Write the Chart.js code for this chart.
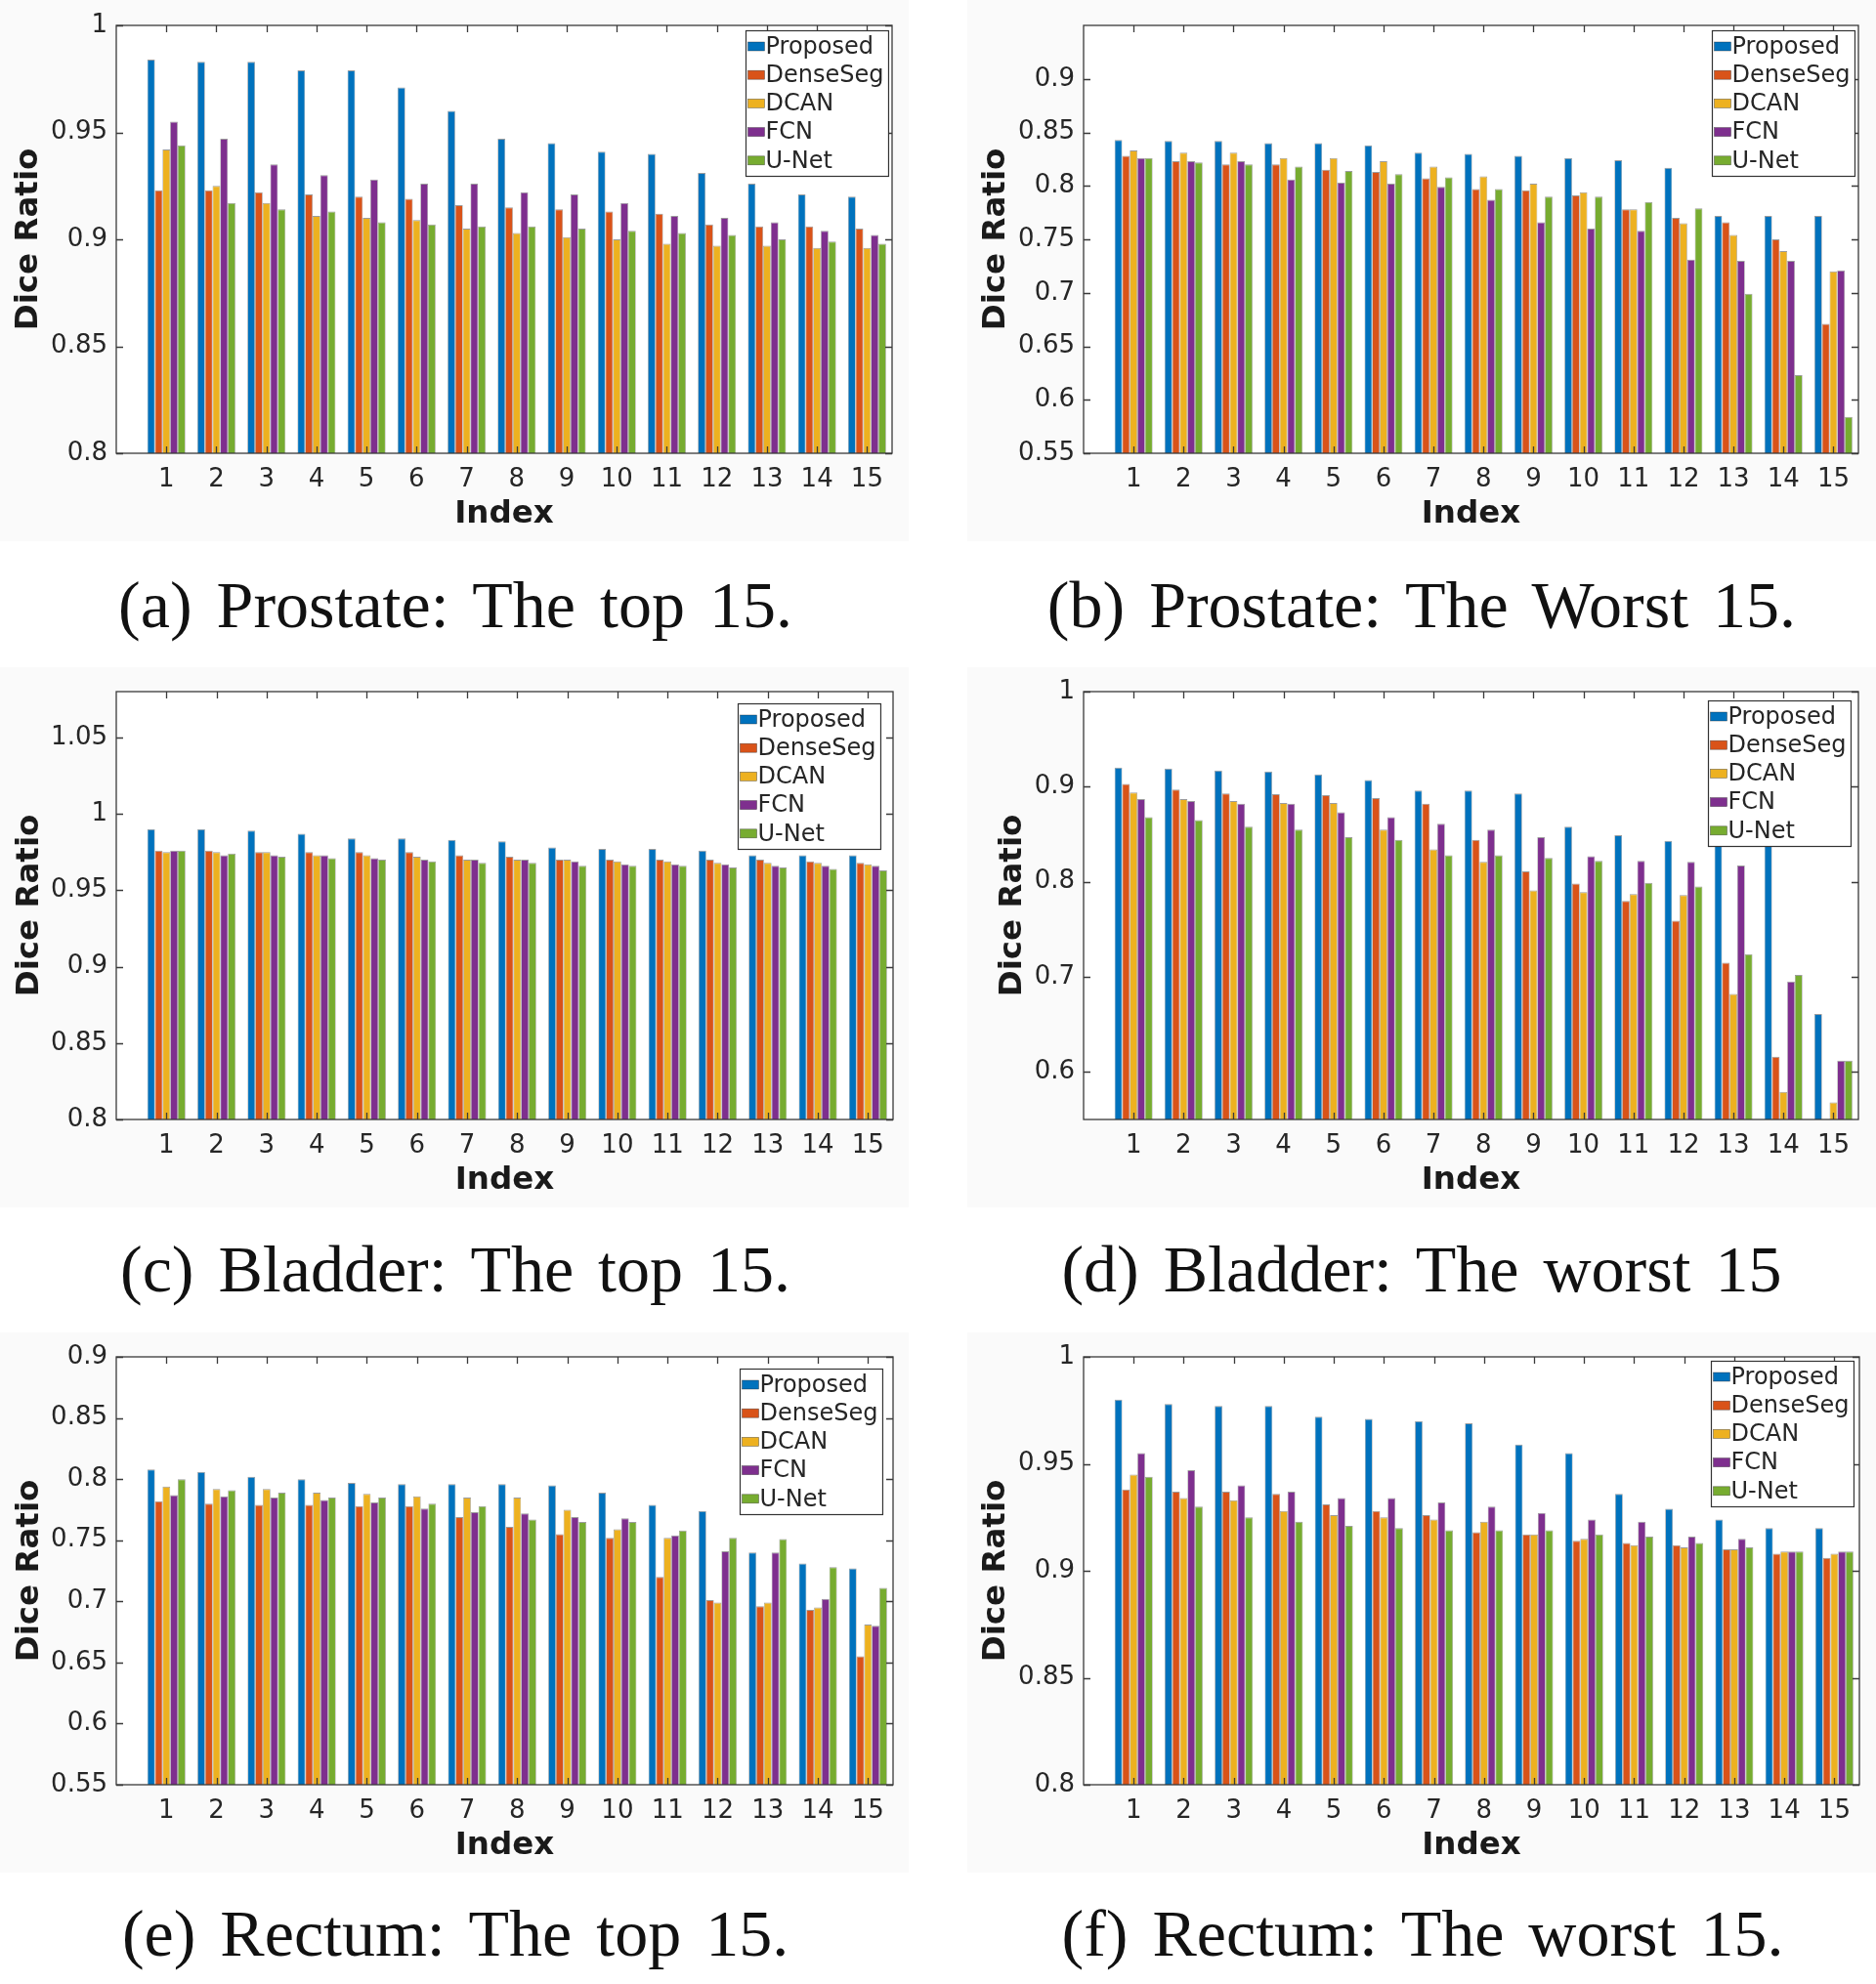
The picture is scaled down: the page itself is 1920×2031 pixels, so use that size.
<!DOCTYPE html>
<html><head><meta charset="utf-8">
<script src="https://cdn.jsdelivr.net/npm/chart.js@4.4.1/dist/chart.umd.min.js"></script>
<style>
html,body{margin:0;padding:0;background:#fff;}
body{width:1920px;height:2031px;position:relative;overflow:hidden;}
canvas{position:absolute;display:block;}
.cap{position:absolute;font-family:"Liberation Serif","Times New Roman",serif;font-size:68px;color:#111;white-space:nowrap;transform:translate(-50%,-50%);word-spacing:8px;line-height:1;}
</style></head><body>
<canvas id="ca" width="930" height="554" style="left:0;top:0"></canvas>
<canvas id="cb" width="930" height="554" style="left:990px;top:0"></canvas>
<canvas id="cc" width="930" height="553" style="left:0;top:683px"></canvas>
<canvas id="cd" width="930" height="553" style="left:990px;top:683px"></canvas>
<canvas id="ce" width="930" height="553" style="left:0;top:1364px"></canvas>
<canvas id="cf" width="930" height="553" style="left:990px;top:1364px"></canvas>
<div class="cap" style="left:466px;top:619px">(a) Prostate: The top 15.</div>
<div class="cap" style="left:1455px;top:619px">(b) Prostate: The Worst 15.</div>
<div class="cap" style="left:466px;top:1299px">(c) Bladder: The top 15.</div>
<div class="cap" style="left:1455px;top:1299px">(d) Bladder: The worst 15</div>
<div class="cap" style="left:466px;top:1979px">(e) Rectum: The top 15.</div>
<div class="cap" style="left:1456px;top:1979px">(f) Rectum: The worst 15.</div>
<script>
// ---------- data ----------
const indices = [1,2,3,4,5,6,7,8,9,10,11,12,13,14,15];
const seriesNames = ['Proposed','DenseSeg','DCAN','FCN','U-Net'];

// (a) Prostate: top 15
const aProposed = [0.984,0.983,0.983,0.979,0.979,0.971,0.960,0.947,0.945,0.941,0.940,0.931,0.926,0.921,0.920];
const aDenseSeg = [0.923,0.923,0.922,0.921,0.920,0.919,0.916,0.915,0.914,0.913,0.912,0.907,0.906,0.906,0.905];
const aDCAN     = [0.942,0.925,0.917,0.911,0.910,0.909,0.905,0.903,0.901,0.900,0.898,0.897,0.897,0.896,0.896];
const aFCN      = [0.955,0.947,0.935,0.930,0.928,0.926,0.926,0.922,0.921,0.917,0.911,0.910,0.908,0.904,0.902];
const aUNet     = [0.944,0.917,0.914,0.913,0.908,0.907,0.906,0.906,0.905,0.904,0.903,0.902,0.900,0.899,0.898];
const aYTicks   = [0.8,0.85,0.9,0.95,1];

// (b) Prostate: worst 15
const bProposed = [0.843,0.842,0.842,0.840,0.840,0.838,0.831,0.830,0.828,0.826,0.824,0.817,0.772,0.772,0.772];
const bDenseSeg = [0.828,0.823,0.820,0.820,0.815,0.813,0.807,0.797,0.796,0.791,0.778,0.770,0.766,0.750,0.671];
const bDCAN     = [0.833,0.831,0.831,0.826,0.826,0.823,0.818,0.809,0.802,0.794,0.778,0.765,0.754,0.739,0.720];
const bFCN      = [0.826,0.823,0.823,0.806,0.803,0.802,0.799,0.787,0.766,0.760,0.758,0.731,0.730,0.730,0.721];
const bUNet     = [0.826,0.822,0.820,0.818,0.814,0.811,0.808,0.797,0.790,0.790,0.785,0.779,0.699,0.623,0.584];
const bYTicks   = [0.55,0.6,0.65,0.7,0.75,0.8,0.85,0.9];

// (c) Bladder: top 15
const cProposed = [0.990,0.990,0.989,0.987,0.984,0.984,0.983,0.982,0.978,0.977,0.977,0.976,0.973,0.973,0.973];
const cDenseSeg = [0.976,0.976,0.975,0.975,0.975,0.975,0.973,0.972,0.970,0.970,0.970,0.970,0.970,0.969,0.968];
const cDCAN     = [0.975,0.975,0.975,0.973,0.973,0.972,0.970,0.970,0.970,0.969,0.969,0.968,0.968,0.968,0.967];
const cFCN      = [0.976,0.973,0.973,0.973,0.971,0.970,0.970,0.970,0.969,0.967,0.967,0.967,0.966,0.966,0.966];
const cUNet     = [0.976,0.974,0.972,0.971,0.970,0.969,0.968,0.968,0.966,0.966,0.966,0.965,0.965,0.964,0.963];
const cYTicks   = [0.8,0.85,0.9,0.95,1,1.05];

// (d) Bladder: worst 15
const dProposed = [0.920,0.919,0.917,0.916,0.913,0.907,0.896,0.896,0.893,0.858,0.849,0.843,0.840,0.839,0.661];
const dDenseSeg = [0.903,0.897,0.893,0.892,0.891,0.888,0.882,0.844,0.811,0.798,0.780,0.759,0.715,0.616,0.520];
const dDCAN     = [0.894,0.887,0.885,0.883,0.883,0.855,0.834,0.821,0.791,0.789,0.787,0.786,0.682,0.579,0.568];
const dFCN      = [0.887,0.885,0.882,0.882,0.873,0.868,0.861,0.855,0.847,0.827,0.822,0.821,0.817,0.695,0.612];
const dUNet     = [0.868,0.865,0.858,0.855,0.847,0.844,0.828,0.828,0.825,0.822,0.799,0.795,0.724,0.702,0.612];
const dYTicks   = [0.6,0.7,0.8,0.9,1];

// (e) Rectum: top 15
const eProposed = [0.808,0.806,0.802,0.800,0.797,0.796,0.796,0.796,0.795,0.789,0.779,0.774,0.740,0.731,0.727];
const eDenseSeg = [0.782,0.780,0.779,0.779,0.778,0.778,0.769,0.761,0.755,0.752,0.720,0.701,0.696,0.693,0.655];
const eDCAN     = [0.794,0.792,0.792,0.789,0.788,0.786,0.785,0.785,0.775,0.759,0.752,0.699,0.699,0.695,0.681];
const eFCN      = [0.787,0.786,0.785,0.783,0.781,0.776,0.773,0.772,0.769,0.768,0.754,0.741,0.740,0.702,0.680];
const eUNet     = [0.800,0.791,0.789,0.785,0.785,0.780,0.778,0.767,0.765,0.765,0.758,0.752,0.751,0.728,0.711];
const eYTicks   = [0.55,0.6,0.65,0.7,0.75,0.8,0.85,0.9];

// (f) Rectum: worst 15
const fProposed = [0.980,0.978,0.977,0.977,0.972,0.971,0.970,0.969,0.959,0.955,0.936,0.929,0.924,0.920,0.920];
const fDenseSeg = [0.938,0.937,0.937,0.936,0.931,0.928,0.926,0.918,0.917,0.914,0.913,0.912,0.910,0.908,0.906];
const fDCAN     = [0.945,0.934,0.933,0.928,0.926,0.925,0.924,0.923,0.917,0.915,0.912,0.911,0.910,0.909,0.908];
const fFCN      = [0.955,0.947,0.940,0.937,0.934,0.934,0.932,0.930,0.927,0.924,0.923,0.916,0.915,0.909,0.909];
const fUNet     = [0.944,0.930,0.925,0.923,0.921,0.920,0.919,0.919,0.919,0.917,0.916,0.913,0.911,0.909,0.909];
const fYTicks   = [0.8,0.85,0.9,0.95,1];

// ---------- styles ----------
const COLORS = ['#0072BD','#D95319','#EDB120','#7E2F8E','#77AC30'];
const TXT = '#262626';
Chart.defaults.font.family = '"DejaVu Sans", sans-serif';
Chart.defaults.color = TXT;

const framePlugin = {
  id: 'frame',
  beforeDraw(c) {
    const {ctx, chartArea: a} = c;
    ctx.save();
    ctx.fillStyle = '#fafafa';
    ctx.fillRect(0, 0, c.width, c.height);
    ctx.fillStyle = '#ffffff';
    ctx.fillRect(a.left, a.top, a.right - a.left, a.bottom - a.top);
    ctx.restore();
  },
  afterDatasetsDraw(c, args, opts) {
    const {ctx, chartArea: a, scales: {x, y}} = c;
    ctx.save();
    ctx.strokeStyle = '#3a3a3a';
    ctx.lineWidth = 1.3;
    const L = 7;
    ctx.beginPath();
    x.ticks.forEach(t => {
      const px = Math.round(x.getPixelForValue(t.value)) + 0.5;
      ctx.moveTo(px, a.bottom); ctx.lineTo(px, a.bottom - L);
      ctx.moveTo(px, a.top); ctx.lineTo(px, a.top + L);
    });
    y.ticks.forEach(t => {
      const py = Math.round(y.getPixelForValue(t.value)) + 0.5;
      ctx.moveTo(a.left, py); ctx.lineTo(a.left + L, py);
      ctx.moveTo(a.right, py); ctx.lineTo(a.right - L, py);
    });
    ctx.stroke();
    ctx.strokeRect(a.left, a.top, a.right - a.left, a.bottom - a.top);
    // legend box drawn inside the axes, like the original figure
    ctx.font = '24px "DejaVu Sans"';
    const tw = Math.max(...c.data.datasets.map(d => ctx.measureText(d.label).width));
    const w = 21 + tw + 4, rowH = 29.2, h = 149;
    const lx = Math.round(a.right - opts.r - w) + 0.5, ly = Math.round(a.top + opts.t) + 0.5;
    ctx.fillStyle = '#ffffff';
    ctx.fillRect(lx, ly, w, h);
    ctx.lineWidth = 1.2;
    ctx.strokeStyle = '#333';
    ctx.strokeRect(lx, ly, w, h);
    ctx.textBaseline = 'middle';
    ctx.textAlign = 'left';
    c.data.datasets.forEach((d, i) => {
      const cy = ly + 16 + i * rowH;
      ctx.fillStyle = d.backgroundColor;
      ctx.fillRect(lx + 2, cy - 4.5, 17, 9);
      ctx.lineWidth = 0.6;
      ctx.strokeStyle = 'rgba(30,30,30,0.6)';
      ctx.strokeRect(lx + 2, cy - 4.5, 17, 9);
      ctx.fillStyle = TXT;
      ctx.fillText(d.label, lx + 20, cy + 1);
    });
    ctx.restore();
  }
};

function fmt(v) { return String(+Number(v).toFixed(3)); }

function makeChart(id, series, yMin, yMax, yTicks, cfg) {
  const datasets = series.map((s, i) => ({
    label: seriesNames[i],
    data: s,
    backgroundColor: COLORS[i],
    borderColor: 'rgba(35,35,35,0.45)',
    borderWidth: {top: 1, left: 0.7, right: 0.7, bottom: 0},
    borderSkipped: 'start',
    categoryPercentage: 0.76,
    barPercentage: 1.0,
    clip: 0
  }));
  return new Chart(document.getElementById(id), {
    type: 'bar',
    data: {labels: indices, datasets},
    plugins: [framePlugin],
    options: {
      responsive: false,
      animation: false,
      events: [],
      layout: {padding: {top: cfg.padTop, right: cfg.padRight, left: 0, bottom: 0}},
      plugins: {
        legend: {display: false},
        tooltip: {enabled: false},
        frame: cfg.leg
      },
      scales: {
        x: {
          type: 'linear',
          min: 0, max: 15.5,
          offset: false,
          grid: {display: false, drawTicks: false},
          border: {display: false},
          afterBuildTicks: s => { s.ticks = indices.map(v => ({value: v})); },
          afterFit: s => { s.height = 90; },
          ticks: {autoSkip: false, maxRotation: 0, padding: 12, color: TXT,
                  font: {size: 26}, callback: v => String(v)},
          title: {display: true, text: 'Index', color: '#1a1a1a',
                  font: {size: 32.5, weight: 'bold'}, padding: {top: 0, bottom: 7.5}}
        },
        y: {
          type: 'linear',
          min: yMin, max: yMax,
          beginAtZero: false,
          grid: {display: false, drawTicks: false},
          border: {display: false},
          afterBuildTicks: s => { s.ticks = yTicks.map(v => ({value: v})); },
          afterFit: s => { s.width = 119; },
          ticks: {autoSkip: false, padding: 9, color: TXT, font: {size: 26}, callback: v => fmt(v)},
          title: {display: true, text: 'Dice Ratio', color: '#1a1a1a',
                  font: {size: 32.5, weight: 'bold'}, padding: {top: cfg.yTitlePad, bottom: 0}}
        }
      }
    }
  });
}

makeChart('ca', [aProposed,aDenseSeg,aDCAN,aFCN,aUNet], 0.8, 1.0, aYTicks,
  {padTop: 26, padRight: 17, yTitlePad: 10, leg: {r: 4, t: 5}});
makeChart('cb', [bProposed,bDenseSeg,bDCAN,bFCN,bUNet], 0.55, 0.95, bYTicks,
  {padTop: 26, padRight: 18, yTitlePad: 10, leg: {r: 4, t: 5}});
makeChart('cc', [cProposed,cDenseSeg,cDCAN,cFCN,cUNet], 0.8, 1.08, cYTicks,
  {padTop: 25, padRight: 16, yTitlePad: 11, leg: {r: 13, t: 12}});
makeChart('cd', [dProposed,dDenseSeg,dDCAN,dFCN,dUNet], 0.55, 1.0, dYTicks,
  {padTop: 25, padRight: 18, yTitlePad: 27, leg: {r: 8, t: 9}});
makeChart('ce', [eProposed,eDenseSeg,eDCAN,eFCN,eUNet], 0.55, 0.9, eYTicks,
  {padTop: 25, padRight: 16, yTitlePad: 11, leg: {r: 11, t: 12}});
makeChart('cf', [fProposed,fDenseSeg,fDCAN,fFCN,fUNet], 0.8, 1.0, fYTicks,
  {padTop: 25, padRight: 17, yTitlePad: 10, leg: {r: 6, t: 4}});
</script>
</body></html>
